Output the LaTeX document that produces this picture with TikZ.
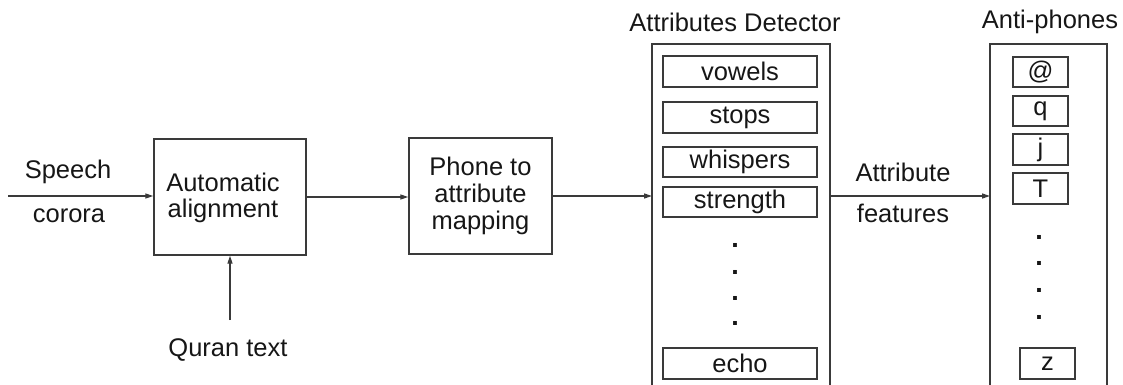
\documentclass[tikz,border=0pt]{standalone}
\usepackage{fontspec}
\setmainfont{Liberation Sans}
\usetikzlibrary{arrows.meta}
\definecolor{linegray}{HTML}{3A3A3A}
\definecolor{inkblack}{HTML}{161616}
\begin{document}
\begin{tikzpicture}[x=1pt,y=-1pt,
  every node/.style={text=inkblack,font=\fontsize{25.5}{26.8}\selectfont},
  blockbox/.style={draw=linegray,line width=1.4pt,inner sep=0pt,align=center},
  itembox/.style={draw=linegray,line width=1.3pt,inner sep=0pt},
  label/.style={inner sep=0pt,align=center},
  dotmark/.style={inner sep=0pt,font=\fontsize{27}{27}\selectfont\bfseries},
  flow/.style={draw=linegray,line width=1.3pt,-{Triangle[length=8pt,width=5pt]}},
  openbox/.style={draw=linegray,line width=1.4pt}]
\useasboundingbox (0,0) rectangle (1123,385);

% main processing blocks
\node[blockbox,minimum width=152pt,minimum height=116pt] (align) at (230,197) {};
\node[label] (aligntext) at (223,198) {Automatic\\alignment};
\node[blockbox,minimum width=143pt,minimum height=116pt] (phone) at (480.5,196) {Phone to\\attribute\\mapping};

% inputs
\coordinate (speechin) at (8,196);
\node[label] (speech) at (68,172) {Speech};
\node[label] (corora) at (69,216) {corora};
\node[label] (quran) at (228,350) {Quran text};
\coordinate (quranfoot) at (230,320);

% attributes detector column (open at the bottom)
\node[label] (dettitle) at (735,22) {Attributes Detector};
\coordinate (detTL) at (652,44);
\coordinate (detTR) at (830,44);
\coordinate (detBL) at (652,390);
\coordinate (detBR) at (830,390);
\draw[openbox] (detBL) -- (detTL) -- (detTR) -- (detBR);
\coordinate (detin) at (652,196);
\coordinate (detout) at (830,196);

\node[itembox,minimum width=154pt,minimum height=31pt] (vowels) at (740,71.5) {vowels};
\node[itembox,minimum width=154pt,minimum height=31pt] (stops) at (740,117.5) {stops};
\node[itembox,minimum width=154pt,minimum height=30pt] (whispers) at (740,162) {whispers};
\node[itembox,minimum width=154pt,minimum height=30pt] (strength) at (740,202) {strength};
\node[dotmark] (d1) at (735,245) {.};
\node[dotmark] (d2) at (735,272) {.};
\node[dotmark] (d3) at (735,298) {.};
\node[dotmark] (d4) at (735,323) {.};
\node[itembox,minimum width=154pt,minimum height=31pt] (echo) at (740,363.5) {echo};

% anti-phones column (open at the bottom)
\node[label] (antititle) at (1050,22) {Anti-phones};
\coordinate (antiTL) at (990,44);
\coordinate (antiTR) at (1107,44);
\coordinate (antiBL) at (990,390);
\coordinate (antiBR) at (1107,390);
\draw[openbox] (antiBL) -- (antiTL) -- (antiTR) -- (antiBR);
\coordinate (antiin) at (990,196);

\node[itembox,minimum width=55pt,minimum height=30pt] (at) at (1040.5,72) {@};
\node[itembox,minimum width=55pt,minimum height=30pt] (q) at (1040.5,111) {q};
\node[itembox,minimum width=55pt,minimum height=31pt] (j) at (1040.5,149.5) {j};
\node[itembox,minimum width=55pt,minimum height=31pt] (T) at (1040.5,188.5) {T};
\node[dotmark] (e1) at (1039,237) {.};
\node[dotmark] (e2) at (1039,263) {.};
\node[dotmark] (e3) at (1039,290) {.};
\node[dotmark] (e4) at (1039,317) {.};
\node[itembox,minimum width=55pt,minimum height=31pt] (z) at (1047.5,363.5) {z};

% features label
\node[label] (attr) at (903,172) {Attribute};
\node[label] (feat) at (903,213) {features};

% connectors
\draw[flow] (speechin) -- (speechin -| align.west);
\draw[flow] (quranfoot) -- (quranfoot |- align.south);
\draw[flow] (align.east |- 0,197) -- (phone.west |- 0,197);
\draw[flow] (phone.east) -- (detin);
\draw[flow] (detout) -- (antiin);
\end{tikzpicture}
\end{document}
